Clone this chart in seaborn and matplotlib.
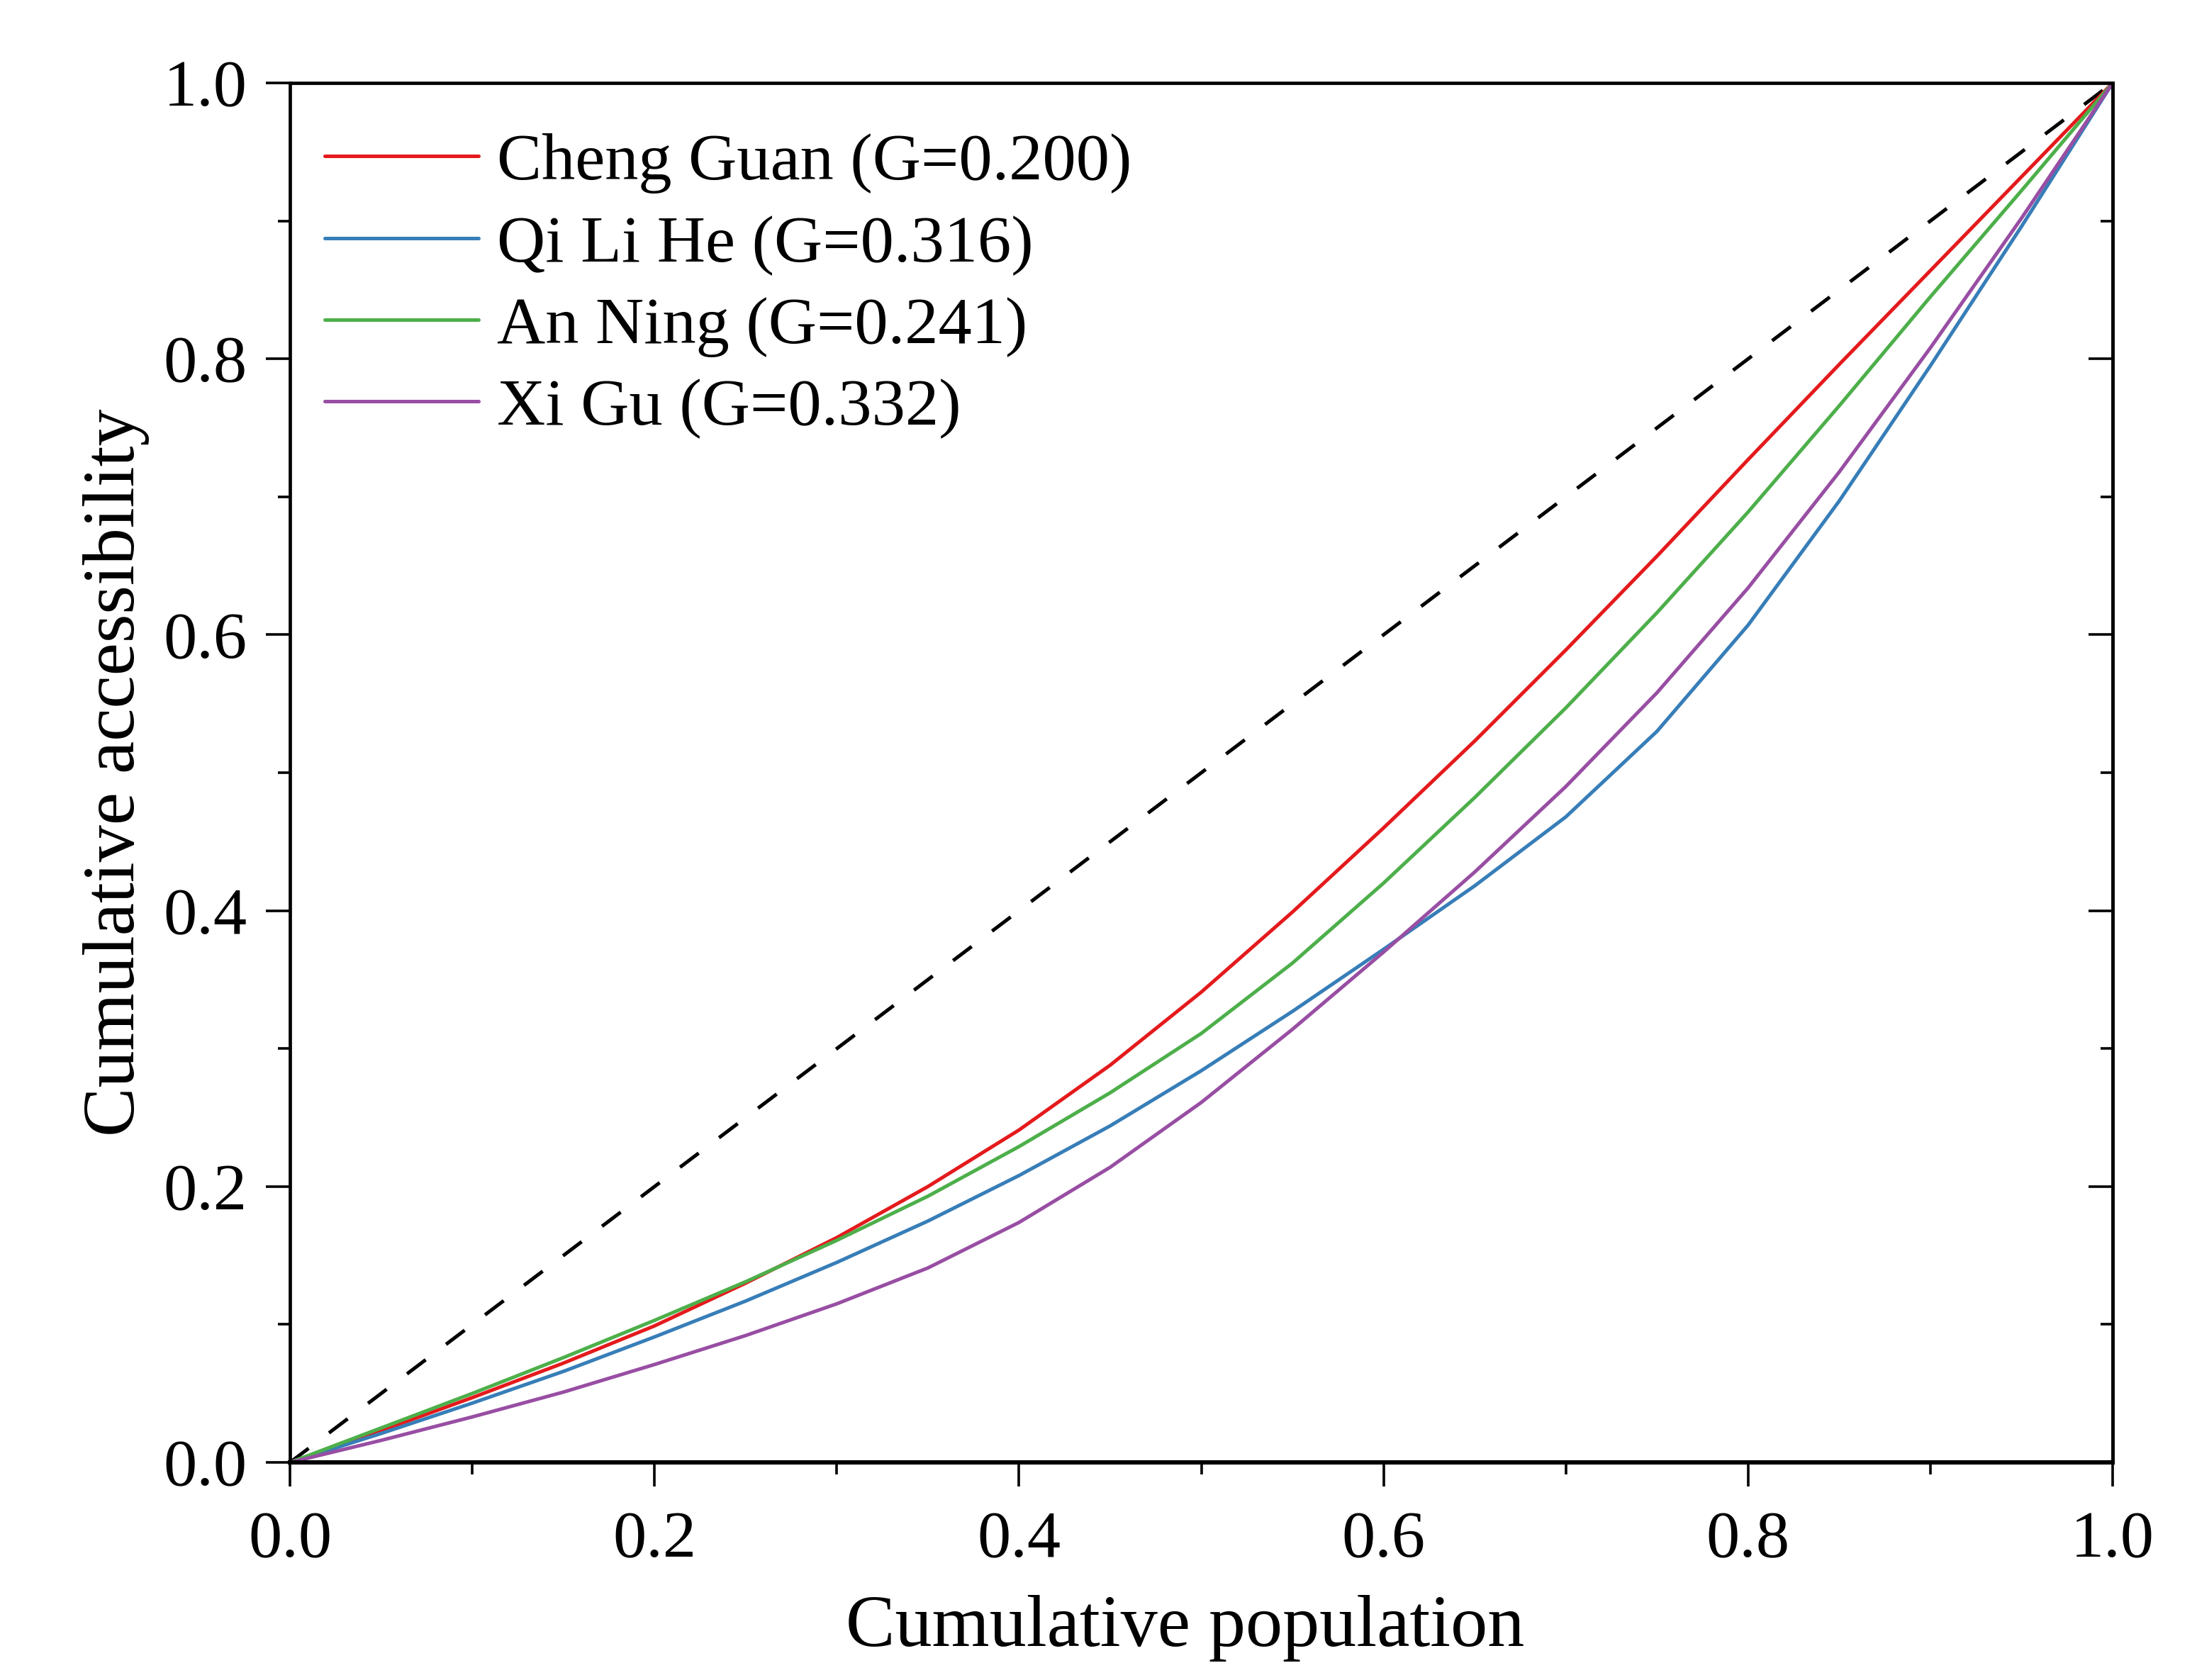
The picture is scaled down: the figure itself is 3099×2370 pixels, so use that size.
import pandas as pd
import matplotlib
matplotlib.use('Agg')
import matplotlib.pyplot as plt
from matplotlib.lines import Line2D
from matplotlib.ticker import MultipleLocator
import seaborn as sns

# cumulative population share (x)
pop = [0.00, 0.05, 0.10, 0.15, 0.20, 0.25, 0.30, 0.35, 0.40, 0.45, 0.50,
       0.55, 0.60, 0.65, 0.70, 0.75, 0.80, 0.85, 0.90, 0.95, 1.00]

# cumulative accessibility share (y)
cheng_guan = [0.000, 0.023, 0.047, 0.072, 0.099, 0.130, 0.163, 0.200, 0.241, 0.288, 0.341,
              0.399, 0.460, 0.523, 0.589, 0.657, 0.727, 0.796, 0.864, 0.932, 1.000]
qi_li_he = [0.000, 0.021, 0.043, 0.066, 0.091, 0.117, 0.145, 0.175, 0.208, 0.244, 0.284,
            0.327, 0.372, 0.418, 0.468, 0.530, 0.607, 0.697, 0.795, 0.896, 1.000]
an_ning = [0.000, 0.025, 0.050, 0.076, 0.103, 0.131, 0.161, 0.193, 0.229, 0.268, 0.311,
           0.362, 0.420, 0.482, 0.547, 0.616, 0.689, 0.766, 0.845, 0.922, 1.000]
xi_gu = [0.000, 0.016, 0.033, 0.051, 0.071, 0.092, 0.115, 0.141, 0.174, 0.214, 0.261,
         0.314, 0.370, 0.428, 0.490, 0.558, 0.634, 0.718, 0.808, 0.902, 1.000]

names = ['Cheng Guan', 'Qi Li He', 'An Ning', 'Xi Gu']
gini = ['0.200', '0.316', '0.241', '0.332']
colors = ['#E41A1C', '#377EB8', '#4DAF4A', '#984EA3']

series = [cheng_guan, qi_li_he, an_ning, xi_gu]
labels = [f'{n} (G={g})' for n, g in zip(names, gini)]

rows = []
for lab, vals in zip(labels, series):
    for p, v in zip(pop, vals):
        rows.append({'pop': p, 'acc': v, 'label': lab})
df = pd.DataFrame(rows)

sns.set_theme(style='ticks')
plt.rcParams['font.family'] = ['Liberation Serif', 'DejaVu Serif']
plt.rcParams['text.color'] = 'black'
plt.rcParams['axes.labelcolor'] = 'black'
plt.rcParams['xtick.color'] = 'black'
plt.rcParams['ytick.color'] = 'black'

fig = plt.figure(figsize=(30.99, 23.70), dpi=100)
ax = fig.add_axes([0.132, 0.1295, 0.8296, 0.8211])

# line of equality
sns.lineplot(x=[0, 1], y=[0, 1], ax=ax, color='black', linewidth=3.6,
             linestyle=(0, (6.6, 7.2)))

sns.lineplot(data=df, x='pop', y='acc', hue='label', hue_order=labels,
             palette=colors, linewidth=3.6, ax=ax, estimator=None, sort=False,
             legend=False)

for ln in ax.lines:
    ln.set_linewidth(3.6)
    ln.set_solid_joinstyle('round')

handles = [Line2D([0], [0], color=c, linewidth=3.6) for c in colors]
ax.legend(handles, labels, loc='upper left', bbox_to_anchor=(0.019, 0.964),
          frameon=False, fontsize=68, handlelength=2.3, handletextpad=0.27,
          labelspacing=0.31, borderaxespad=0, borderpad=0)

ax.set_xlim(0, 1)
ax.set_ylim(0, 1)
ax.xaxis.set_major_locator(MultipleLocator(0.2))
ax.xaxis.set_minor_locator(MultipleLocator(0.1))
ax.yaxis.set_major_locator(MultipleLocator(0.2))
ax.yaxis.set_minor_locator(MultipleLocator(0.1))

ax.tick_params(axis='both', which='major', direction='out', length=24.5,
               width=2.6, labelsize=68, top=False, right=False, colors='black')
ax.tick_params(axis='both', which='minor', direction='out', length=12,
               width=2.6, top=False, right=False)
ax.tick_params(axis='x', which='major', pad=25)
ax.tick_params(axis='y', which='major', pad=19)

# right side ticks point inward, no labels
sec = ax.secondary_yaxis('right')
sec.yaxis.set_major_locator(MultipleLocator(0.2))
sec.yaxis.set_minor_locator(MultipleLocator(0.1))
sec.tick_params(which='major', direction='in', length=24.5, width=2.6, labelright=False)
sec.tick_params(which='minor', direction='in', length=12, width=2.6)
sec.spines['right'].set_linewidth(3.4)

for s in ax.spines.values():
    s.set_linewidth(3.4)
    s.set_color('black')
ax.spines['bottom'].set_linewidth(4.4)

ax.set_xlabel('Cumulative population', fontsize=75, labelpad=24, color='black')
ax.xaxis.label.set_x(0.491)
ax.set_ylabel('Cumulative accessibility', fontsize=75, labelpad=14, color='black')

fig.savefig('out.png', dpi=100, facecolor='white')
